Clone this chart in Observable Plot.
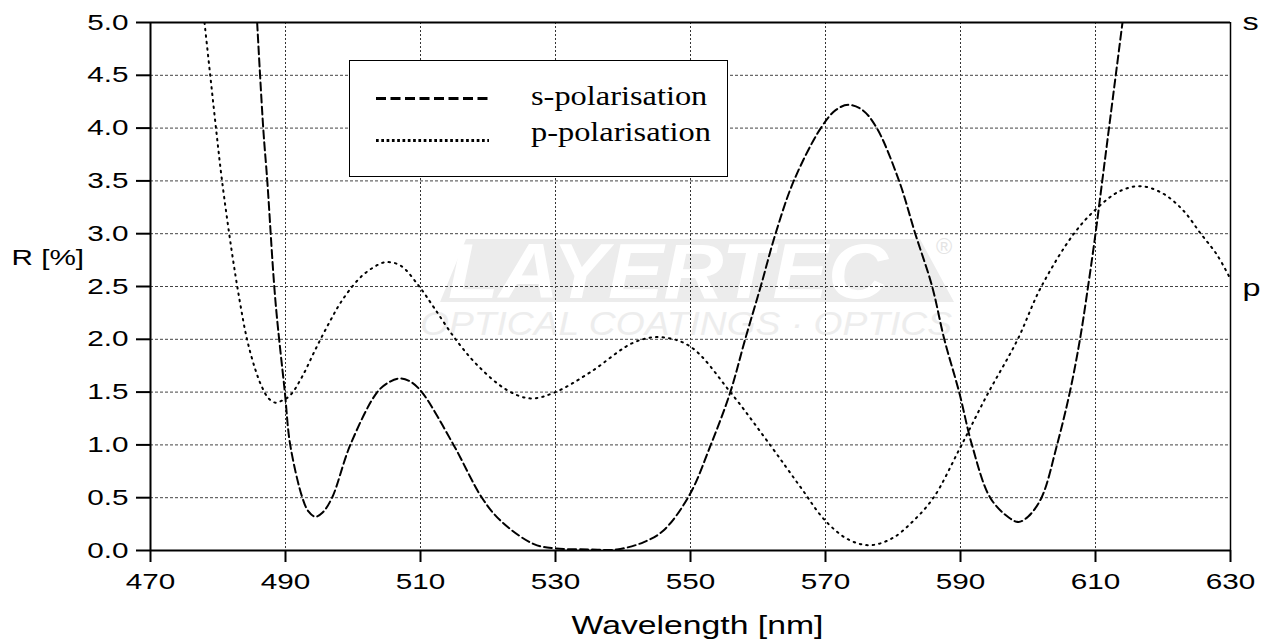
<!DOCTYPE html>
<html><head><meta charset="utf-8">
<script src="https://cdn.jsdelivr.net/npm/d3@7"></script>
<script src="https://cdn.jsdelivr.net/npm/@observablehq/plot@0.6"></script>
<style>
html,body{margin:0;padding:0;background:#fff;overflow:hidden}
#wrap{position:relative;width:1268px;height:639px}
#wrap > svg, #wrap > div{position:absolute;left:0;top:0}
</style></head><body>
<div id="wrap">
<svg id="wm" width="1268" height="639">
  <polygon points="466,239 920,239 954,302 440,302" fill="#ececec"/>
  <text x="448" y="298" font-family="Liberation Sans, Arial, sans-serif" font-weight="bold" font-style="italic" font-size="78" fill="#fff" textLength="440" lengthAdjust="spacingAndGlyphs">LAYERTEC</text>
  <text x="936" y="254" font-family="Liberation Sans, Arial, sans-serif" font-size="22" fill="#e4e4e4">®</text>
  <text x="420" y="335" font-family="Liberation Sans, Arial, sans-serif" font-style="italic" font-size="34" fill="#ededed" textLength="532" lengthAdjust="spacingAndGlyphs">OPTICAL COATINGS · OPTICS</text>
</svg>
<div id="chart"></div>
<svg id="legend" width="1268" height="639" style="pointer-events:none">
  <rect x="349.5" y="60.5" width="378" height="116" fill="#fff" stroke="#000" stroke-width="1"/>
  <line x1="376" x2="489" y1="98.5" y2="98.5" stroke="#000" stroke-width="3" stroke-dasharray="10,4.5"/>
  <line x1="376" x2="489" y1="140.5" y2="140.5" stroke="#000" stroke-width="3" stroke-dasharray="2.7,2.6"/>
  <text transform="translate(531,105) scale(1.2,1)" font-family="Liberation Serif, Times New Roman, serif" font-size="27" fill="#000">s-polarisation</text>
  <text transform="translate(531,141) scale(1.2,1)" font-family="Liberation Serif, Times New Roman, serif" font-size="27" fill="#000">p-polarisation</text>
</svg>
</div>
<script>
// s-polarisation (dashed)
const sWavelength = [485.8, 486.7, 487.3, 488.5, 489.9, 490.7, 492.5, 493.4, 494.4, 495.5, 496.9, 499.6, 503.6, 505.5, 507.0, 508.5, 510.2, 514.9, 519.1, 521.9, 526.8, 530.0, 535.0, 539.1, 543.1, 546.0, 549.8, 553.0, 555.9, 558.1, 560.4, 562.6, 565.3, 569.3, 571.5, 573.4, 575.5, 577.6, 580.9, 583.3, 585.8, 587.6, 589.8, 591.7, 594.4, 597.2, 598.6, 600.0, 602.0, 604.3, 606.2, 607.7, 608.9, 610.0, 611.0, 612.0, 614.0];
const sReflectance = [5.0, 4.0, 3.5, 2.37, 1.5, 1.0, 0.5, 0.37, 0.32, 0.36, 0.5, 1.0, 1.5, 1.6, 1.63, 1.6, 1.5, 1.0, 0.5, 0.28, 0.06, 0.02, 0.01, 0.01, 0.08, 0.19, 0.52, 1.0, 1.5, 2.0, 2.5, 3.0, 3.5, 4.0, 4.17, 4.22, 4.17, 4.0, 3.5, 3.0, 2.5, 2.0, 1.5, 1.0, 0.5, 0.31, 0.27, 0.32, 0.5, 1.0, 1.5, 2.0, 2.5, 3.0, 3.5, 4.0, 5.0];
// p-polarisation (dotted)
const pWavelength = [478.0, 478.85, 479.7, 480.6, 482.0, 483.2, 484.3, 485.5, 486.5, 487.5, 488.5, 489.5, 490.7, 492.5, 494.4, 496.5, 498.4, 501.0, 503.0, 504.8, 507.0, 509.7, 512.0, 515.2, 518.5, 522.8, 526.3, 530.0, 535.2, 541.6, 545.6, 550.0, 555.9, 561.9, 566.3, 570.0, 573.5, 576.7, 580.0, 583.0, 586.0, 590.0, 594.0, 598.4, 601.9, 606.8, 610.2, 613.5, 616.7, 620.0, 623.0, 625.6, 628.0, 630.0];
const pReflectance = [5.0, 4.5, 4.0, 3.5, 2.85, 2.37, 2.0, 1.72, 1.55, 1.44, 1.40, 1.42, 1.47, 1.65, 1.90, 2.16, 2.37, 2.58, 2.68, 2.73, 2.70, 2.51, 2.30, 2.0, 1.75, 1.52, 1.44, 1.5, 1.69, 1.97, 2.02, 1.93, 1.5, 0.99, 0.6, 0.28, 0.10, 0.05, 0.12, 0.28, 0.5, 0.98, 1.48, 1.99, 2.49, 3.0, 3.24, 3.40, 3.45, 3.38, 3.22, 3.0, 2.80, 2.57];
const xTicks = [470, 490, 510, 530, 550, 570, 590, 610, 630];
const yTicks = [0, 0.5, 1.0, 1.5, 2.0, 2.5, 3.0, 3.5, 4.0, 4.5, 5.0];
const seriesLabels = ["s", "p"];
const seriesLabelValues = [5.0, 2.48];
const xLabel = "Wavelength [nm]";
const yLabel = "R [%]";

const sData = sWavelength.map((w, i) => ({wl: w, r: sReflectance[i]}));
const pData = pWavelength.map((w, i) => ({wl: w, r: pReflectance[i]}));
const rightLabels = seriesLabels.map((t, i) => ({t, r: seriesLabelValues[i]}));

const chart = Plot.plot({
  width: 1268, height: 639,
  marginLeft: 150, marginRight: 38, marginTop: 22, marginBottom: 89,
  style: {fontFamily: "Liberation Sans, Arial, sans-serif", fontSize: "22px", background: "transparent", color: "#000"},
  x: {domain: [470, 630], axis: null},
  y: {domain: [0, 5], axis: null},
  marks: [
    Plot.ruleX(xTicks.slice(1, -1), {stroke: "#333", strokeWidth: 1, strokeDasharray: "2,2"}),
    Plot.ruleY(yTicks.slice(1, -1), {stroke: "#444", strokeWidth: 1, strokeDasharray: "3,2"}),
    Plot.line(pData, {x: "wl", y: "r", stroke: "#000", strokeWidth: 2, strokeDasharray: "1.5,5", curve: "catmull-rom", clip: true}),
    Plot.line(sData, {x: "wl", y: "r", stroke: "#000", strokeWidth: 2, strokeDasharray: "8,4", curve: "catmull-rom", clip: true}),
    Plot.ruleX([630], {stroke: "#000", strokeWidth: 1.5}),
    Plot.ruleY([5], {stroke: "#000", strokeWidth: 2}),
    Plot.ruleX([470], {stroke: "#000", strokeWidth: 2}),
    Plot.ruleY([0], {stroke: "#000", strokeWidth: 2}),
    Plot.axisY(yTicks, {tickSize: 14, tickPadding: 8, tickFormat: d3.format(".1f"), strokeWidth: 2, label: null, fontSize: 22}),
    Plot.axisX(xTicks, {tickSize: 12, tickPadding: 11, strokeWidth: 2, label: null, fontSize: 22}),
    Plot.text([xLabel], {frameAnchor: "bottom", dx: 7, dy: 83, fontSize: 25}),
    Plot.text([{t: yLabel, r: 2.77}], {y: "r", text: "t", frameAnchor: "left", dx: -139, textAnchor: "start", fontSize: 22}),
    Plot.text(rightLabels, {x: () => 630, y: "r", text: "t", dx: 12, textAnchor: "start", fontSize: 24})
  ]
});
document.getElementById("chart").appendChild(chart);
chart.querySelectorAll("text").forEach(t => {
  const tr = t.getAttribute("transform");
  if (tr) t.setAttribute("transform", tr + " scale(1.35,1)");
});
</script>
</body></html>
